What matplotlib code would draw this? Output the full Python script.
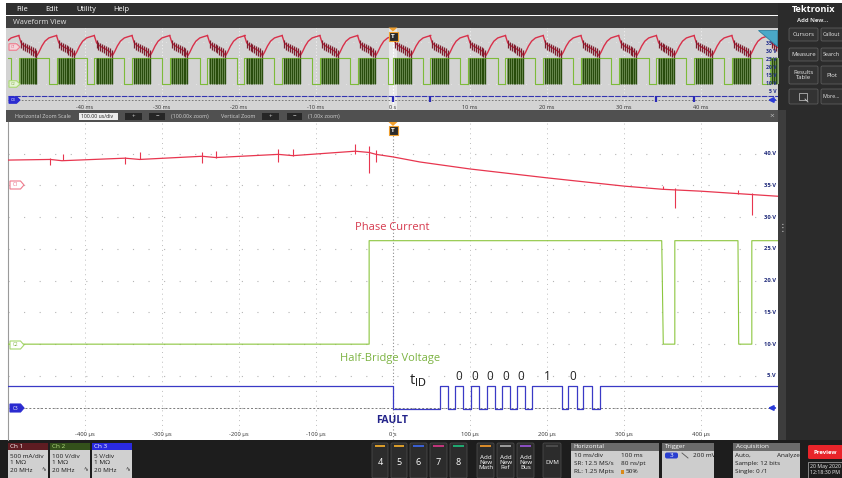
import numpy as np
import matplotlib
matplotlib.use("Agg")
import matplotlib.pyplot as plt
from matplotlib.patches import Rectangle, FancyBboxPatch, Polygon

plt.rcParams["font.family"] = ["Open Sans", "DejaVu Sans"]

W, H = 842, 478

# ---- zoomed view: time in us, level on the 5 V/div screen scale
red_t = [-500, -445, -430, -348, -329, -248, -230, -149, -130, -49, -31, -22, 0, 35, 100, 200, 300, 350, 400, 450, 500]
red_v = [39.0, 39.1, 38.9, 39.3, 39.1, 39.6, 39.4, 39.9, 39.7, 40.4, 40.2, 39.9, 39.5, 38.7, 37.6, 36.2, 34.9, 34.4, 34.1, 33.7, 33.3]
red_spike_t = [-445, -429, -348, -329, -248, -230, -149, -130, -49, -31, -22, 351, 366, 448, 466]
red_spike_lo = [38.3, 39.0, 38.4, 39.1, 38.6, 39.3, 38.7, 39.6, 39.9, 37.0, 38.7, 34.4, 31.4, 33.7, 30.3]
red_spike_hi = [39.4, 39.9, 39.5, 40.3, 40.3, 40.4, 40.7, 40.7, 41.5, 41.2, 40.6, 34.9, 34.6, 34.3, 33.8]

grn_t = [-500, -31, -31, 349, 351, 366, 366, 448, 449, 466, 466, 500]
grn_v = [10.0, 10.0, 26.3, 26.3, 10.0, 10.0, 26.3, 26.3, 10.0, 10.0, 26.3, 26.3]

blue_hi = 3.4
blue_lo = -0.2
blue_edges = [0, 61, 72, 80.5, 91, 101, 112, 121.5, 132.5, 141, 152, 161.5, 172, 180, 219, 227, 238.5, 247, 258, 269]

bit_t = [86, 106, 126, 146, 166, 200, 233]
bit_txt = ["0", "0", "0", "0", "0", "1", "0"]

xtick_us = [-400, -300, -200, -100, 0, 100, 200, 300, 400]
xtick_lbl = ["-400 µs", "-300 µs", "-200 µs", "-100 µs", "0 s", "100 µs", "200 µs", "300 µs", "400 µs"]
volt_ticks = [40, 35, 30, 25, 20, 15, 10, 5]

# ---- overview: time in ms
ov_rise = [-53.5, -48.6, -43.7, -38.8, -33.9, -29.0, -24.1, -19.3, -14.4, -9.5, -4.6,
           0.0, 4.8, 9.7, 14.6, 19.5, 24.4, 29.3, 34.2, 39.1, 44.0, 48.9]
ov_high_len = 3.9
ov_red_phase = [0.0, 0.3, 0.6, 1.0, 1.5, 2.0, 2.35, 2.6, 3.0, 3.4, 3.9, 4.4, 4.9]
ov_red_v = [40.0, 35.5, 34.0, 32.8, 31.5, 30.0, 27.5, 29.5, 33.5, 36.5, 38.5, 39.3, 40.0]
ov_rip_phase = [0.3, 0.55, 0.8, 1.05, 1.3, 1.55, 1.8, 2.05, 2.3]
ov_rip_lo = [32.0, 31.0, 30.5, 29.5, 29.0, 28.0, 27.5, 26.5, 26.0]
ov_rip_hi = [37.0, 36.0, 35.5, 35.0, 34.0, 33.5, 33.0, 32.0, 31.0]
ov_fault = [0.0, 4.8, 34.2, 39.1]
ov_blue = 2.2
ov_tick_ms = [-40, -30, -20, -10, 0, 10, 20, 30, 40]
ov_tick_lbl = ["-40 ms", "-30 ms", "-20 ms", "-10 ms", "0 s", "10 ms", "20 ms", "30 ms", "40 ms"]
ov_volt = [35, 30, 25, 20, 15, 10, 5]

RED = "#e8364f"
GRN = "#8cc63f"
BLU = "#3a3ac6"

fig = plt.figure(figsize=(W / 100, H / 100), dpi=100, facecolor="white")


def pos(x0, y0, x1, y1):
    return [x0 / W, 1 - y1 / H, (x1 - x0) / W, (y1 - y0) / H]


def px_axes(z):
    a = fig.add_axes([0, 0, 1, 1], zorder=z)
    a.set_xlim(0, W)
    a.set_ylim(H, 0)
    a.axis("off")
    return a


def rect(ax, x0, y0, x1, y1, fc, ec="none", lw=0.6):
    ax.add_patch(Rectangle((x0, y0), x1 - x0, y1 - y0, fc=fc, ec=ec, lw=lw))


def rbox(ax, x0, y0, x1, y1, fc, ec="none", lw=0.6, r=1.5):
    ax.add_patch(FancyBboxPatch((x0, y0), x1 - x0, y1 - y0,
                                boxstyle=f"round,pad=0,rounding_size={r}", fc=fc, ec=ec, lw=lw))


def txt(ax, x, y, s, fs=4.6, c="#1a1a1a", ha="left", **kw):
    ax.text(x, y, s, fontsize=fs, color=c, ha=ha, va="center", **kw)


def tag(ax, x0, yc, label, fc, ec, tc, w=14, h=8, fs=3.4):
    pts = [(x0, yc - h / 2), (x0 + w - 3.5, yc - h / 2), (x0 + w, yc),
           (x0 + w - 3.5, yc + h / 2), (x0, yc + h / 2)]
    ax.add_patch(Polygon(pts, closed=True, fc=fc, ec=ec, lw=0.8))
    ax.text(x0 + (w - 3.5) / 2 + 0.5, yc, label, fontsize=fs, color=tc, ha="center", va="center")


# ---------------- background chrome
bg = px_axes(0)
rect(bg, 6, 3, 842, 15, "#2f2f2f")
for s, x in zip(["File", "Edit", "Utility", "Help"], [16, 45, 76, 113]):
    txt(bg, x, 9, s, fs=5.3, c="white")
rect(bg, 6, 16, 778, 27.5, "#404040")
txt(bg, 13, 22, "Waveform View", fs=5.3, c="#e0e0e0")
rect(bg, 6, 27.5, 8, 110, "#d3d3d3")
rect(bg, 778, 3, 842, 440, "#2b2b2b")
rect(bg, 778, 110, 786, 440, "#3d3d3d")

# zoom bar
rect(bg, 6, 110, 778, 121.5, "#505050")
txt(bg, 15, 116, "Horizontal Zoom Scale", fs=3.9, c="#d0d0d0")
rect(bg, 79, 112.5, 118, 119.5, "#ececec")
txt(bg, 81, 116, "100.00 us/div", fs=3.7, c="#222")
for x0, x1, s in [(125, 142, "+"), (149, 165, "−"), (262, 279, "+"), (287, 302, "−")]:
    rect(bg, x0, 112.5, x1, 119.5, "#262626")
    txt(bg, (x0 + x1) / 2, 116, s, fs=4.5, c="#dddddd", ha="center")
txt(bg, 171, 116, "(100.00x zoom)", fs=3.9, c="#d0d0d0")
txt(bg, 221, 116, "Vertical Zoom", fs=3.9, c="#d0d0d0")
txt(bg, 308, 116, "(1.00x zoom)", fs=3.9, c="#d0d0d0")
txt(bg, 772, 116, "×", fs=6, c="#bbbbbb", ha="center")

# right panel
bg.text(792, 9.5, "Tektronix", fontsize=6.6, color="white", fontweight="bold", ha="left", va="center")
txt(bg, 813, 20, "Add New...", fs=4.3, c="#dddddd", ha="center", fontweight="bold")
for lbl, x0, y0, x1, y1 in [("Cursors", 789, 28, 818, 41), ("Callout", 821, 28, 850, 41),
                            ("Measure", 789, 48, 818, 61), ("Search", 821, 48, 850, 61),
                            ("Results\nTable", 789, 66, 818, 84), ("Plot", 821, 66, 850, 84),
                            ("", 789, 89, 818, 104), ("More...", 821, 89, 850, 104)]:
    rbox(bg, x0, y0, x1, y1, "#333333", "#5c5c5c", 0.6)
    if not lbl:
        continue
    if x0 > 800 and lbl != "Plot":
        bg.text(822.5, (y0 + y1) / 2, lbl, fontsize=3.9, color="#e8e8e8", ha="left", va="center")
    else:
        bg.text((x0 + x1) / 2 if x0 < 800 else 832, (y0 + y1) / 2, lbl, fontsize=4.3,
                color="#e8e8e8", ha="center", va="center", linespacing=0.9)
rect(bg, 799, 93, 807, 100, "none", "#cccccc", 0.5)
bg.plot([805, 808], [99, 102], color="#cccccc", lw=0.6)

# status bar
rect(bg, 0, 440, 842, 478, "#1d1d1d")
for i, (hc, tc, lines) in enumerate([("#5e1c22", "white", ["500 mA/div", "1 MΩ", "20 MHz"]),
                                     ("#33501b", "#b5e080", ["100 V/div", "1 MΩ", "20 MHz"]),
                                     ("#2a2ae0", "white", ["5 V/div", "1 MΩ", "20 MHz"])]):
    x0 = 8 + i * 42
    rect(bg, x0, 443, x0 + 40, 450, hc)
    txt(bg, x0 + 2, 446.5, f"Ch {i + 1}", fs=4.6, c=tc)
    rect(bg, x0, 450, x0 + 40, 478, "#d0d0d0")
    for j, s in enumerate(lines):
        txt(bg, x0 + 2, 456 + j * 7, s, fs=4.6)
    txt(bg, x0 + 36, 469.5, "∿", fs=4, ha="center")

for x0, x1, s, sc in [(372, 388, "4", "#d89b2a"), (391, 407, "5", "#d89b2a"), (410, 427, "6", "#3a5fd0"),
                      (430, 447, "7", "#c0357a"), (450, 467, "8", "#1fa870"),
                      (477, 494, "Add\nNew\nMath", "#d88a2a"), (497, 514, "Add\nNew\nRef", "#9a9a9a"),
                      (517, 534, "Add\nNew\nBus", "#8a4fc0"), (543, 561, "DVM", "#4a4a4a")]:
    rbox(bg, x0, 443, x1, 478, "#2c2c2c", "#4a4a4a", 0.6)
    rect(bg, x0 + 3, 445, x1 - 3, 446.8, sc)
    fs = 6.5 if len(s) == 1 else 4.5
    bg.text((x0 + x1) / 2, 462.5, s, fontsize=fs, color="white", ha="center", va="center",
            linespacing=0.95)

for x0, x1, head in [(571, 659, "Horizontal"), (662, 714, "Trigger"), (733, 800, "Acquisition")]:
    rect(bg, x0, 443, x1, 450.5, "#6b6b6b")
    txt(bg, x0 + 2.5, 446.8, head, fs=4.6, c="white")
    rect(bg, x0, 450.5, x1, 478, "#cdcdcd")
for s, x, y in [("10 ms/div", 574, 455.5), ("100 ms", 621, 455.5), ("SR: 12.5 MS/s", 574, 463.5),
                ("80 ns/pt", 621, 463.5), ("RL: 1.25 Mpts", 574, 471.5), ("50%", 626, 471.5),
                ("200 mV", 693, 455.5), ("Auto,", 735, 455.5), ("Analyze", 777, 455.5),
                ("Sample: 12 bits", 735, 463.5), ("Single: 0 /1", 735, 471.5)]:
    txt(bg, x, y, s)
rect(bg, 620.5, 469.5, 624, 473.5, "#d98a1a")
rbox(bg, 665, 452.5, 678, 458.5, "#2a3fd0", r=2)
txt(bg, 671.5, 455.5, "3", fs=4.5, c="white", ha="center")
bg.plot([682, 688], [453, 458], color="#555555", lw=0.6)
rbox(bg, 808, 445, 845, 459, "#e8242a", r=1.5)
txt(bg, 825, 452, "Preview", fs=4.3, c="white", ha="center", fontweight="bold")
rect(bg, 808, 462, 845, 478, "#1d1d1d", "#9a9a9a", 0.6)
txt(bg, 809.5, 466.5, "20 May 2020", fs=3.8, c="#eeeeee")
txt(bg, 809.5, 473, "12:18:30 PM", fs=3.8, c="#eeeeee")

# ---------------- overview
ov = fig.add_axes(pos(8, 27.5, 778, 110), zorder=1)
ov.set_facecolor("#d3d3d3")
ov.set_xlim(-50, 50)
ov.set_ylim(-6.25, 45)
ov.set_xticks([])
ov.set_yticks([])
for sp in ov.spines.values():
    sp.set_visible(False)
for t in ov_tick_ms:
    ov.axvline(t, color="#f4f4f4", lw=0.7, dashes=(1, 2.5), zorder=0)
for v in [10, 26, 36]:
    ov.axhline(v, color="#ececec", lw=0.6, dashes=(1, 8), zorder=0)
ov.axvspan(-0.5, 0.5, color="white", alpha=0.5, lw=0)
ov.axvline(0, color="white", lw=0.8, dashes=(1.5, 1.5))

for k, r in enumerate(ov_rise):
    nxt = ov_rise[k + 1] if k + 1 < len(ov_rise) else 55
    ov.plot(r + np.array(ov_red_phase), ov_red_v, color="#d8304a", lw=1.0)
    ov.vlines(r + np.array(ov_rip_phase), ov_rip_lo, ov_rip_hi, color="#7d1d2d", lw=0.9)
    ov.fill_between([r + ov_rip_phase[0] - 0.1, r + ov_rip_phase[-1] + 0.1], 10, 26.3,
                    color="#8aa870", lw=0)
    ov.plot([r, r, r + ov_high_len, r + ov_high_len, nxt], [10, 26.3, 26.3, 10, 10],
            color="#7dbb3a", lw=0.8)
    ov.vlines(r + np.array(ov_rip_phase), 10, 26.3, color="#284c0c", lw=1.0)

ov.plot([-50, 50], [0, 0], color="#6a6a6a", lw=0.6, dashes=(2, 2))
ov.plot([-50, 50], [ov_blue, ov_blue], color="#3434b0", lw=0.8, dashes=(5, 1))
ov.vlines(ov_fault, -1.3, ov_blue, color="#2a2ab8", lw=1.6)
for t, s in zip(ov_tick_ms, ov_tick_lbl):
    ov.text(t, -4.4, s, fontsize=4, color="#333333", ha="center", va="center")
for v in ov_volt:
    ov.text(49.8, v, f"{v} V", fontsize=3.7, color="#1f2a8a", ha="right", va="center",
            fontweight="bold")

# ---------------- zoomed main view
mn = fig.add_axes(pos(8, 122, 778, 440), zorder=1)
mn.set_facecolor("white")
mn.set_xlim(-500, 500)
mn.set_ylim(-5.1, 45.0)
mn.set_xticks([])
mn.set_yticks([])
for name, sp in mn.spines.items():
    sp.set_visible(name == "left")
    sp.set_color("#9a9a9a")
    sp.set_linewidth(0.8)
for t in xtick_us:
    if t != 0:
        mn.axvline(t, color="#bdbdbd", lw=0.7, dashes=(1, 4), zorder=0)
for v in range(0, 45, 5):
    mn.axhline(v, color="#b5b5b5", lw=0.8, dashes=(1, 13), zorder=0)
mn.axvline(0, color="#8a8a8a", lw=0.8, dashes=(1, 2), zorder=1)
mn.plot([-478, 490], [0, 0], color="#7a7a7a", lw=0.7, dashes=(2, 2), zorder=1)

mn.plot(red_t, red_v, color=RED, lw=0.9, zorder=3)
mn.vlines(red_spike_t, red_spike_lo, red_spike_hi, color=RED, lw=0.8, zorder=3)
mn.plot(grn_t, grn_v, color=GRN, lw=0.8, zorder=3)

bt, bv = [-500], [blue_hi]
lvl = blue_hi
for e in blue_edges:
    bt.append(e)
    bv.append(lvl)
    lvl = blue_lo if lvl == blue_hi else blue_hi
    bt.append(e)
    bv.append(lvl)
bt.append(500)
bv.append(lvl)
mn.plot(bt, bv, color=BLU, lw=0.9, zorder=3)

mn.text(-49, 28.3, "Phase Current", fontsize=8, color="#d63a4e", ha="left", va="center")
mn.text(-69, 7.8, "Half-Bridge Voltage", fontsize=8, color="#7cb342", ha="left", va="center")
mn.text(21, 3.7, r"t$_{\mathrm{ID}}$", fontsize=10.5, color="#222222", ha="left", va="baseline")
for t, s in zip(bit_t, bit_txt):
    mn.text(t, 4.3, s, fontsize=8.5, color="#222222", ha="center", va="baseline")
mn.text(-1, -2.0, "FAULT", fontsize=7.5, color="#23238a", ha="center", va="center",
        fontweight="bold")
for t, s in zip(xtick_us, xtick_lbl):
    mn.text(t, -4.3, s, fontsize=4.2, color="#333333", ha="center", va="center")
for v in volt_ticks:
    mn.text(497, v, f"{v} V", fontsize=4.2, color="#1f2a7a", ha="right", va="center",
            fontweight="bold")

# ---------------- overlay markers
top = px_axes(5)
for y0 in [27.5, 122]:
    top.add_patch(Polygon([(388.5, y0), (397.5, y0), (393, y0 + 4)], closed=True, fc="#f0a030", ec="none"))
    rect(top, 388.5, y0 + 4, 397.5, y0 + 13, "#2a2a2a", "#f0a030", 0.8)
    top.text(393, y0 + 8.7, "T", fontsize=4.6, color="white", ha="center", va="center",
             fontweight="bold")

tag(top, 10, 185, "C1", "white", "#f07a8c", "#e8607a")
tag(top, 10, 345, "C2", "white", "#a8d870", "#7fb040")
tag(top, 10, 408, "C3", "#2b2bd0", "#2b2bd0", "white")
tag(top, 9, 47, "C1", "#f3d6db", "#f07a8c", "#e8607a", w=11, h=6.5, fs=2.9)
tag(top, 9, 84, "C2", "#e6f2d8", "#a8d870", "#7fb040", w=11, h=6.5, fs=2.9)
tag(top, 9, 100, "C3", "#2b2bd0", "#2b2bd0", "white", w=11, h=6.5, fs=2.9)

for y in [408, 100]:
    top.annotate("", xy=(765, y), xytext=(778, y),
                 arrowprops=dict(arrowstyle="-|>", color="#2b3bd8", lw=1.4, mutation_scale=7))
top.add_patch(Polygon([(758, 29.5), (776.5, 29.5), (776.5, 46)], closed=True,
                      fc="#4aa8c8", ec="#2f7f9f", lw=0.6))
top.text(782.5, 228, "⋮", fontsize=7, color="#cccccc", ha="center", va="center")

fig.savefig("out.png", dpi=100, facecolor=fig.get_facecolor())
